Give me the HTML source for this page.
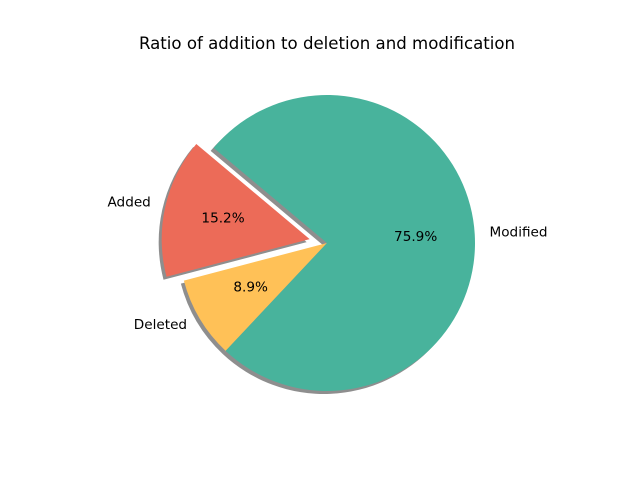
<!DOCTYPE html>
<html><head><meta charset="utf-8"><style>
body{margin:0;background:#fff;}
svg text{font-family:"DejaVu Sans","Liberation Sans",sans-serif;}
</style></head><body>
<svg id="chart" width="640" height="480" xmlns="http://www.w3.org/2000/svg">
<rect width="640" height="480" fill="#fff"/>
<text x="327" y="49" text-anchor="middle" font-size="16.6">Ratio of addition to deletion and modification</text>
<g id="shadows"></g><g id="wedges"></g><g id="labels"></g>
</svg>
<script>
const categories = ["Added", "Deleted", "Modified"];
const values = [15.2, 8.9, 75.9];
const explode = [0.12, 0, 0];
const colors = ["#ec6b58", "#ffc157", "#48b39c"];
const cx = 327, cy = 243, R = 148, startAngle = 140;
const NS = "http://www.w3.org/2000/svg";
const total = values.reduce((a, b) => a + b, 0);
const sh = document.getElementById('shadows'), wg = document.getElementById('wedges'), lb = document.getElementById('labels');
function pt(x, y, a, r) { const t = a * Math.PI / 180; return [x + r * Math.cos(t), y - r * Math.sin(t)]; }
function wedgePath(x, y, a0, a1) {
  const p0 = pt(x, y, a0, R), p1 = pt(x, y, a1, R);
  const large = (a1 - a0) > 180 ? 1 : 0;
  return `M${x},${y} L${p0[0]},${p0[1]} A${R},${R} 0 ${large} 0 ${p1[0]},${p1[1]} Z`;
}
let a = startAngle;
values.forEach((v, i) => {
  const span = v / total * 360, mid = a + span / 2;
  const [ox, oy] = pt(cx, cy, mid, explode[i] * R);
  const d = wedgePath(ox, oy, a, a + span);
  const s = document.createElementNS(NS, 'path');
  s.setAttribute('d', d); s.setAttribute('fill', 'rgba(50,50,50,0.55)');
  s.setAttribute('transform', 'translate(-3,3)');
  
  
  sh.appendChild(s);
  const p = document.createElementNS(NS, 'path');
  p.setAttribute('d', d); p.setAttribute('fill', colors[i]);
  
  
  wg.appendChild(p);
  const [lx, ly] = pt(ox, oy, mid, 1.1 * R);
  const cosm = Math.cos(mid * Math.PI / 180);
  const t = document.createElementNS(NS, 'text');
  t.setAttribute('x', lx); t.setAttribute('y', ly + 3);
  t.setAttribute('font-size', '13.6');
  t.setAttribute('text-anchor', cosm < 0 ? 'end' : 'start');
  t.textContent = categories[i];
  
  
  lb.appendChild(t);
  const [px, py] = pt(ox, oy, mid, 0.6 * R);
  const q = document.createElementNS(NS, 'text');
  q.setAttribute('x', px); q.setAttribute('y', py + 3);
  q.setAttribute('font-size', '13.6'); q.setAttribute('text-anchor', 'middle');
  q.textContent = v.toFixed(1) + '%';
  
  
  lb.appendChild(q);
  a += span;
});
</script>
</body></html>
